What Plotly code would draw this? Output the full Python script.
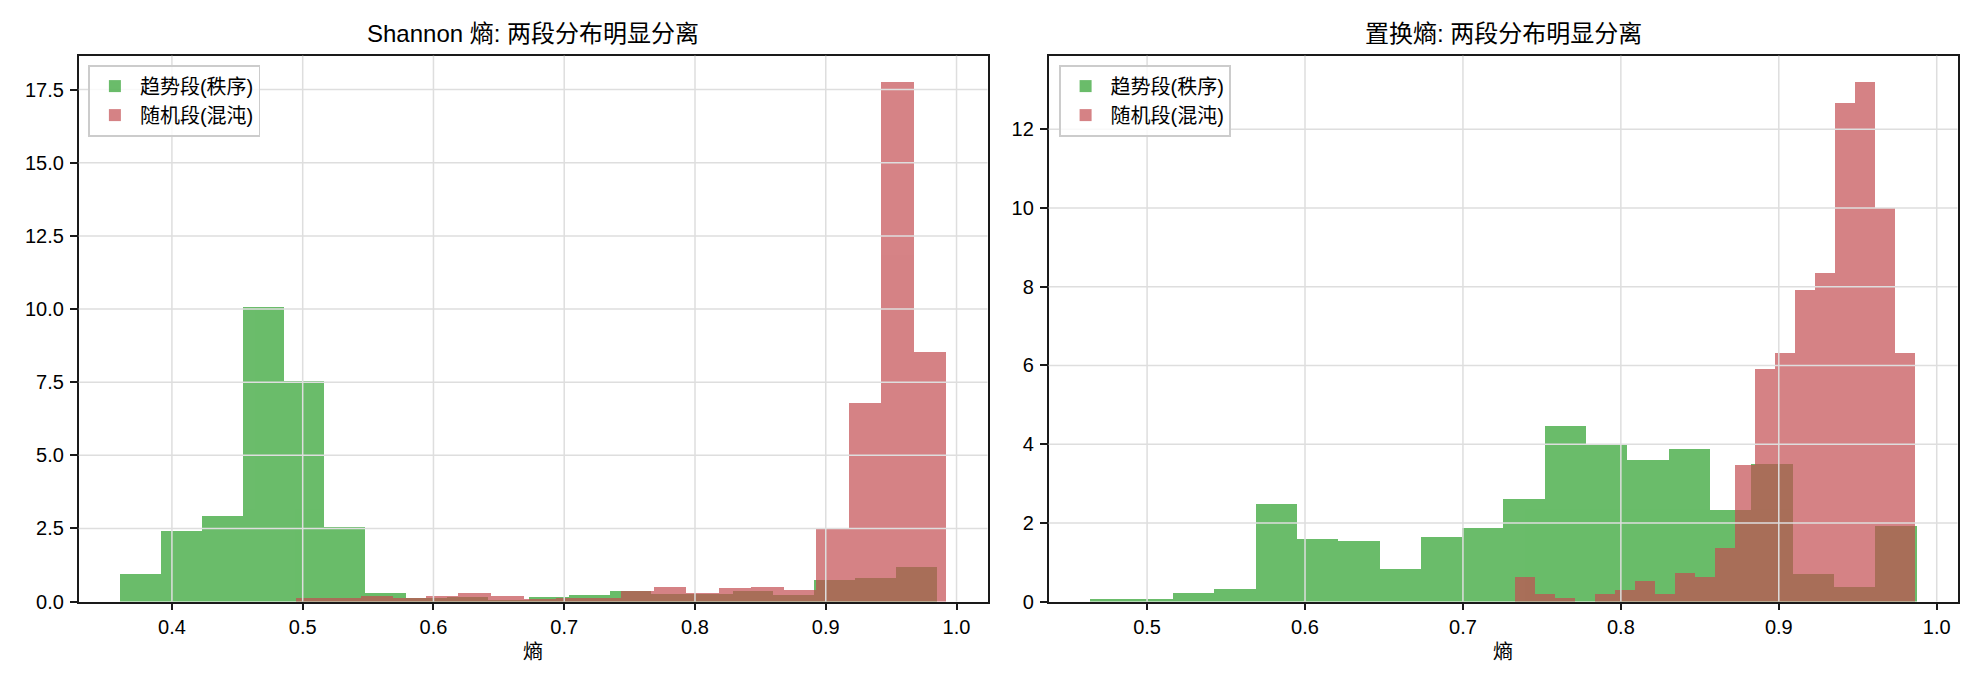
import numpy as np
import plotly.graph_objects as go

# ---------------- data (density histograms, 20 bins each) ----------------
series_names = ["趋势段(秩序)", "随机段(混沌)"]
titles = ["Shannon 熵: 两段分布明显分离", "置换熵: 两段分布明显分离"]
x_label = "熵"

# Shannon entropy panel
shannon_trend_start = 0.3603
shannon_trend_binwidth = 0.031216
shannon_trend_density = [0.95, 2.41, 2.93, 10.08, 7.56, 2.57, 0.30, 0.12, 0.16, 0.07,
                         0.16, 0.23, 0.36, 0.26, 0.26, 0.36, 0.23, 0.74, 0.81, 1.19]
shannon_random_start = 0.4945
shannon_random_binwidth = 0.02488
shannon_random_density = [0.13, 0.13, 0.20, 0.13, 0.20, 0.29, 0.19, 0.11, 0.12, 0.12,
                          0.36, 0.50, 0.30, 0.47, 0.50, 0.40, 2.49, 6.80, 17.77, 8.53]

# Permutation entropy panel
perm_trend_start = 0.4638
perm_trend_binwidth = 0.02616
perm_trend_density = [0.085, 0.085, 0.22, 0.32, 2.48, 1.59, 1.54, 0.83, 1.64, 1.88,
                      2.61, 4.48, 3.98, 3.60, 3.88, 2.33, 3.50, 0.70, 0.37, 1.92]
perm_random_start = 0.7324
perm_random_binwidth = 0.012665
perm_random_density = [0.63, 0.195, 0.093, 0.0, 0.195, 0.30, 0.525, 0.195, 0.73, 0.63,
                       1.36, 3.47, 5.91, 6.32, 7.92, 8.35, 12.67, 13.21, 10.01, 6.32]

# tick labels
left_xticks = [0.4, 0.5, 0.6, 0.7, 0.8, 0.9, 1.0]
left_yticks = [0.0, 2.5, 5.0, 7.5, 10.0, 12.5, 15.0, 17.5]
right_xticks = [0.5, 0.6, 0.7, 0.8, 0.9, 1.0]
right_yticks = [0, 2, 4, 6, 8, 10, 12]

# ---------------- styling ----------------
W, H = 1980, 690
GREEN = "#2ca02c"
RED = "#c44e52"
ALPHA = 0.7
FONT = "Liberation Sans, Arial, Noto Sans CJK SC, sans-serif"
SPINE = "#1a1a1a"
GRID = "#dedede"

dom_left = [78.7 / W, 987.5 / W]
dom_right = [1048.6 / W, 1957.5 / W]
dom_y = [88.4 / H, 634.3 / H]


def centers(start, bw, vals):
    return start + bw * (np.arange(len(vals)) + 0.5)


def auto_range(starts_widths_vals):
    lo = min(s for s, w, v in starts_widths_vals)
    hi = max(s + w * len(v) for s, w, v in starts_widths_vals)
    pad = 0.05 * (hi - lo)
    ymax = max(max(v) for s, w, v in starts_widths_vals) * 1.05
    return [lo - pad, hi + pad], [0, ymax]


fig = go.Figure()

panels = [
    dict(xa="x", ya="y", legend="legend",
         series=[(shannon_trend_start, shannon_trend_binwidth, shannon_trend_density),
                 (shannon_random_start, shannon_random_binwidth, shannon_random_density)]),
    dict(xa="x2", ya="y2", legend="legend2",
         series=[(perm_trend_start, perm_trend_binwidth, perm_trend_density),
                 (perm_random_start, perm_random_binwidth, perm_random_density)]),
]

ranges = []
for p in panels:
    for (start, bw, vals), name, col in zip(p["series"], series_names, [GREEN, RED]):
        fig.add_trace(go.Bar(
            x=centers(start, bw, vals), y=vals, width=bw, name=name,
            marker=dict(color=col, line=dict(width=0)), opacity=ALPHA,
            xaxis=p["xa"], yaxis=p["ya"], legend=p["legend"],
        ))
    ranges.append(auto_range(p["series"]))

axis_common = dict(
    showline=True, linecolor=SPINE, linewidth=1.6, mirror=True,
    ticks="outside", ticklen=7, tickwidth=1.6, tickcolor=SPINE,
    showgrid=False, zeroline=False,
    tickfont=dict(family=FONT, size=20, color="#000000"),
    layer="above traces",
)

fig.update_layout(
    width=W, height=H, barmode="overlay", bargap=0,
    paper_bgcolor="white", plot_bgcolor="white",
    margin=dict(l=0, r=0, t=0, b=0, autoexpand=False),
    font=dict(family=FONT, size=20, color="#000000"),
    xaxis=dict(domain=dom_left, anchor="y", range=ranges[0][0],
               tickvals=left_xticks, ticktext=[f"{v:.1f}" for v in left_xticks],
               title=dict(text=x_label, standoff=8, font=dict(size=20, family=FONT)),
               **axis_common),
    yaxis=dict(domain=dom_y, anchor="x", range=ranges[0][1],
               tickvals=left_yticks, ticktext=[f"{v:.1f}" for v in left_yticks],
               ticklabelstandoff=2, **axis_common),
    xaxis2=dict(domain=dom_right, anchor="y2", range=ranges[1][0],
                tickvals=right_xticks, ticktext=[f"{v:.1f}" for v in right_xticks],
                title=dict(text=x_label, standoff=8, font=dict(size=20, family=FONT)),
                **axis_common),
    yaxis2=dict(domain=dom_y, anchor="x2", range=ranges[1][1],
                tickvals=right_yticks, ticktext=[str(v) for v in right_yticks],
                ticklabelstandoff=2, **axis_common),
    legend=dict(x=88.3 / W, y=(H - 65) / H, xanchor="left", yanchor="top",
                bgcolor="rgba(255,255,255,0.8)", bordercolor="#cccccc", borderwidth=1.6,
                font=dict(family=FONT, size=20), itemwidth=40, tracegroupgap=0),
    legend2=dict(x=1059 / W, y=(H - 65) / H, xanchor="left", yanchor="top",
                 bgcolor="rgba(255,255,255,0.8)", bordercolor="#cccccc", borderwidth=1.6,
                 font=dict(family=FONT, size=20), itemwidth=40, tracegroupgap=0),
    showlegend=True,
)

# titles
for dom, t in zip([dom_left, dom_right], titles):
    fig.add_annotation(text=t, x=(dom[0] + dom[1]) / 2, y=(H - 34) / H,
                       xref="paper", yref="paper", xanchor="center", yanchor="middle",
                       showarrow=False, font=dict(family=FONT, size=24, color="#000000"))

# grid lines drawn above bars (as matplotlib does)
for xa, ya, xt, yt in [("x", "y", left_xticks, left_yticks),
                       ("x2", "y2", right_xticks, right_yticks)]:
    for v in xt:
        fig.add_shape(type="line", xref=xa, yref=f"{ya} domain", x0=v, x1=v, y0=0, y1=1,
                      line=dict(color=GRID, width=1.5), layer="above")
    for v in yt:
        if v == 0:
            continue
        fig.add_shape(type="line", xref=f"{xa} domain", yref=ya, x0=0, x1=1, y0=v, y1=v,
                      line=dict(color=GRID, width=1.5), layer="above")

fig.write_html("out.html")
